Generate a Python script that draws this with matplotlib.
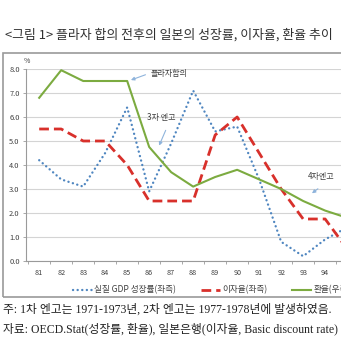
import matplotlib
matplotlib.use('Agg')
from matplotlib import pyplot as plt
from matplotlib.patches import Rectangle

plt.rcParams['font.family'] = ['Noto Sans CJK KR', 'DejaVu Sans']

# data
years = [81, 82, 83, 84, 85, 86, 87, 88, 89, 90, 91, 92, 93, 94, 95]
year_labels = ['81', '82', '83', '84', '85', '86', '87', '88', '89', '90',
               '91', '92', '93', '94']
gdp_growth = [4.2, 3.4, 3.1, 4.5, 6.4, 2.9, 4.9, 7.1, 5.4, 5.6, 3.4, 0.8, 0.2, 0.9, 1.4]
interest = [5.5, 5.5, 5.0, 5.0, 4.0, 2.5, 2.5, 2.5, 5.25, 6.0, 4.5, 3.0, 1.75, 1.75, 0.5]
exchange = [6.8, 7.95, 7.5, 7.5, 7.5, 4.75, 3.7, 3.1, 3.5, 3.8, 3.4, 3.0, 2.5, 2.1, 1.8]
y_ticks = [0, 1, 2, 3, 4, 5, 6, 7, 8]

blue = '#4f86c0'
red = '#d8302b'
green = '#7cab40'
arrow_c = '#8fb4dc'
txt_c = '#404040'

fig = plt.figure(figsize=(3.41, 3.41), dpi=100)

# outer frame of the chart
fig.patches.append(Rectangle((3 / 341, 1 - 297 / 341), 1.2, (297 - 53) / 341,
                             transform=fig.transFigure, fill=False,
                             edgecolor='#9a9a9a', linewidth=1.2))

ax = fig.add_axes([26 / 341, 80 / 341, 1.045, 192 / 341])
ax2 = ax.twinx()

ax.plot(years, gdp_growth, color=blue, linewidth=1.7, linestyle=(0, (0.05, 1.9)),
        dash_capstyle='round', label='실질 GDP 성장률(좌측)')
ax.plot(years, interest, color=red, linewidth=2.0, linestyle=(0, (3.5, 1.8)),
        label='이자율(좌측)')
ax2.plot(years, exchange, color=green, linewidth=1.5, label='환율(우측)')

ax.set_xlim(80.4, 96.6)
ax.set_ylim(0, 8)
ax2.set_ylim(0, 8)
ax.set_xticks(years[:len(year_labels)])
ax.set_xticklabels(year_labels, fontsize=5.2, color=txt_c)
ax.set_xticks([y + 0.5 for y in [80] + years], minor=True)
ax.tick_params(axis='x', which='major', length=0, pad=6)
ax.tick_params(axis='x', which='minor', length=2.5, color='#9a9a9a', width=0.6)
ax.set_yticks(y_ticks)
ax.set_yticklabels(['%.1f' % v for v in y_ticks], fontsize=5.4, color=txt_c)
ax.tick_params(axis='y', length=2.5, color='#9a9a9a', width=0.6, pad=2)
ax2.set_yticks([])
ax.grid(axis='y', color='#d4d4d4', linewidth=0.8)
ax.set_axisbelow(True)
for a in (ax, ax2):
    a.spines['top'].set_visible(False)
    a.spines['right'].set_visible(False)
    a.spines['left'].set_color('#9a9a9a')
    a.spines['bottom'].set_color('#9a9a9a')
    a.patch.set_visible(False)
ax2.spines['left'].set_visible(False)
ax2.spines['bottom'].set_visible(False)

ax.text(80.3, 8.25, '%', fontsize=5, color=txt_c)

# annotations
ax.text(86.05, 7.83, '플라자합의', fontsize=5.8, color=txt_c, va='center')
ax.annotate('', xy=(85.05, 7.5), xytext=(85.95, 7.8),
            arrowprops=dict(arrowstyle='-|>', color=arrow_c, lw=0.8, mutation_scale=5))
ax.text(85.9, 5.96, '3차 엔고', fontsize=5.8, color=txt_c, va='center')
ax.annotate('', xy=(86.4, 4.7), xytext=(86.8, 5.55),
            arrowprops=dict(arrowstyle='-|>', color=arrow_c, lw=0.8, mutation_scale=5))
ax.text(93.2, 3.5, '4차엔고', fontsize=5.8, color=txt_c, va='center')
ax.annotate('', xy=(93.3, 2.75), xytext=(93.77, 3.08),
            arrowprops=dict(arrowstyle='-|>', color=arrow_c, lw=0.8, mutation_scale=5))

h1, l1 = ax.get_legend_handles_labels()
h2, l2 = ax2.get_legend_handles_labels()
fig.legend(h1 + h2, l1 + l2, loc='center left', bbox_to_anchor=(69 / 341, 1 - 290 / 341),
           ncol=3, frameon=False, fontsize=6.2, handlelength=2.2, handletextpad=0.25,
           columnspacing=2.9, labelcolor=txt_c, borderpad=0)

fig.text(5 / 341, 1 - 35 / 341, '<그림 1> 플라자 합의 전후의 일본의 성장률, 이자율, 환율 추이',
         fontsize=9.3, color='#303030', va='center', ha='left')

serif = ['Liberation Serif', 'Noto Sans CJK KR']
fig.text(3 / 341, 1 - 310 / 341, '주: 1차 엔고는 1971-1973년, 2차 엔고는 1977-1978년에 발생하였음.',
         fontsize=8.5, color='#222222', va='center', ha='left', family=serif)
fig.text(3 / 341, 1 - 329 / 341, '자료: OECD.Stat(성장률, 환율), 일본은행(이자율, Basic discount rate)',
         fontsize=8.5, color='#222222', va='center', ha='left', family=serif)

fig.savefig('out.png', dpi=100, facecolor='white')
